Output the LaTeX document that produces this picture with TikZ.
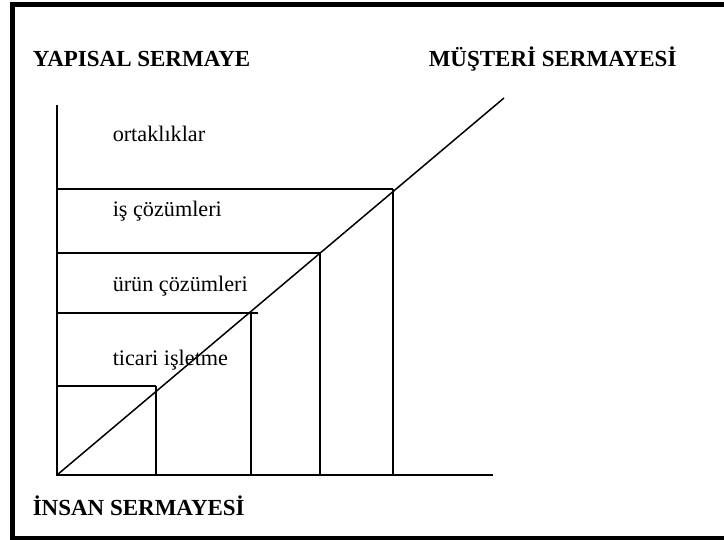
\documentclass[tikz,border=0pt]{standalone}
\usepackage{fontspec}
\setmainfont{Liberation Serif}
\usepackage{tikz}

\tikzset{
  katman/.style={anchor=base west,inner sep=0pt,font=\fontsize{11.1}{13}\selectfont},
  baslik/.style={anchor=base west,inner sep=0pt,font=\fontsize{11.5}{13}\selectfont\bfseries}
}
\def\eksenY{475}

\begin{document}
\begin{tikzpicture}[x=0.5pt,y=-0.5pt,line width=.75pt]
  \useasboundingbox (0,0) rectangle (724,540);
  \clip (0,0) rectangle (724,540);
  % frame, open on the right
  \draw[line width=2.5pt] (740,5)--(12.5,5)--(12.5,538.5)--(740,538.5);

  \coordinate (o) at (57,\eksenY);
  \coordinate (ytop) at (57,105);
  \coordinate (xend) at (493,\eksenY);
  \coordinate (dend) at (504,98);
  \draw (ytop)--(o)--(xend);
  \draw (o)--(dend);

  % steps on the diagonal
  \foreach \x/\y/\e [count=\i] in {156/386/156, 251/313/258, 320/253/320, 393/189/393}{
    \coordinate (k\i) at (\x,\y);
    \draw (57,\y)--(\e,\y);
    \draw (k\i)--(\x,\eksenY);
  }

  \node[baslik] (yapisal) at (32,67) {YAPISAL SERMAYE};
  \node[baslik] (musteri) at (428,67) {MÜŞTERİ SERMAYESİ};
  \node[baslik] (insan) at (32,515) {İNSAN SERMAYESİ};

  \node[katman] (ortak) at (112,142) {ortaklıklar};
  \node[katman] (is) at (112,217) {iş çözümleri};
  \node[katman] (urun) at (112,292) {ürün çözümleri};
  \node[katman] (ticari) at (112,365) {ticari işletme};
\end{tikzpicture}
\end{document}
